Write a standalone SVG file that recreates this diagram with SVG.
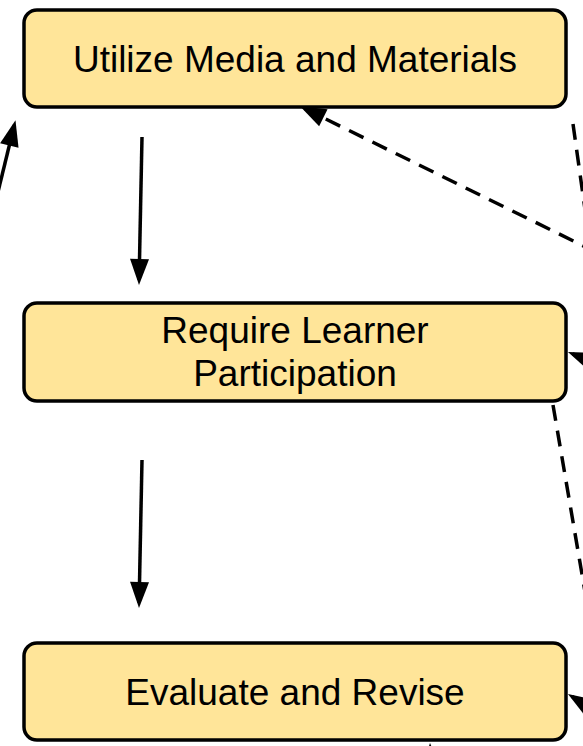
<svg xmlns="http://www.w3.org/2000/svg" width="583" height="746" viewBox="0 0 583 746">
  <style>
    .node rect { fill: #FFE599; stroke: #000000; stroke-width: 3.5; }
    .node text { font-family: "Liberation Sans", Arial, sans-serif; font-size: 37px; fill: #000000; text-anchor: middle; }
    .edge { fill: none; stroke: #000000; stroke-width: 3.5; }
    .dashed { stroke-dasharray: 16 10; }
  </style>
  <defs>
    <marker id="arrow" markerUnits="userSpaceOnUse" markerWidth="26" markerHeight="19" refX="21" refY="9.5" orient="auto" overflow="visible">
      <path d="M0,0 L26,9.5 L0,19 Z" fill="#000000"/>
    </marker>
  </defs>
  <rect x="0" y="0" width="583" height="746" fill="#FFFFFF"/>
  <g id="connectors">
    <line class="edge" x1="142" y1="137" x2="139.1" y2="280" marker-end="url(#arrow)"/>
    <line class="edge" x1="142" y1="460" x2="139.1" y2="603" marker-end="url(#arrow)"/>
    <line class="edge" x1="-5" y1="204" x2="14.3" y2="125" marker-end="url(#arrow)"/>
    <line class="edge dashed" x1="620" y1="264" x2="304.5" y2="108.5" marker-end="url(#arrow)"/>
    <line class="edge" x1="640" y1="381" x2="572.6" y2="353.9" marker-end="url(#arrow)"/>
    <line class="edge" x1="640" y1="739" x2="572.2" y2="696.6" marker-end="url(#arrow)"/>
    <line class="edge" x1="432" y1="800" x2="430.2" y2="748" marker-end="url(#arrow)"/>
    <line class="edge dashed" x1="573" y1="124" x2="590" y2="245"/>
    <line class="edge dashed" x1="553" y1="405" x2="590" y2="621"/>
  </g>
  <g id="node-utilize" class="node">
    <rect x="24" y="10" width="542" height="97" rx="13" ry="13"/>
    <text x="295" y="72">Utilize Media and Materials</text>
  </g>
  <g id="node-require" class="node">
    <rect x="24" y="303" width="542" height="98" rx="13" ry="13"/>
    <text x="295" y="343">Require Learner</text>
    <text x="295" y="386">Participation</text>
  </g>
  <g id="node-evaluate" class="node">
    <rect x="24" y="643" width="542" height="97" rx="13" ry="13"/>
    <text x="295" y="705">Evaluate and Revise</text>
  </g>
</svg>
